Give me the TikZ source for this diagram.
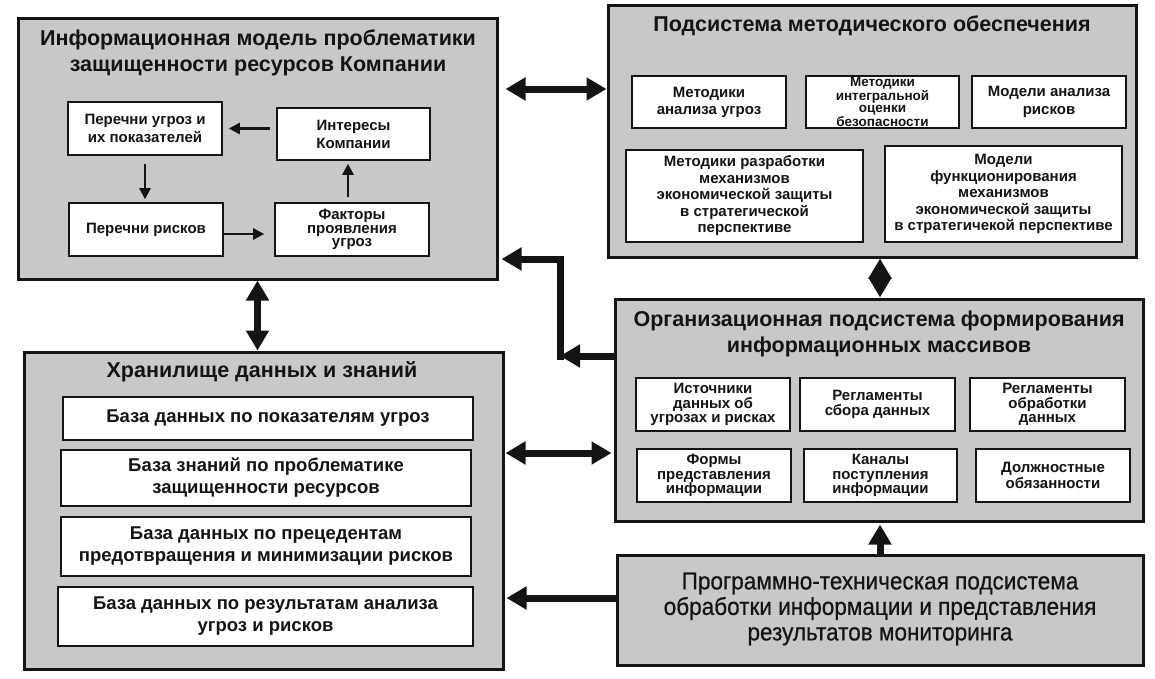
\documentclass[tikz,border=0pt]{standalone}
\usepackage{fontspec}
\setmainfont{Liberation Sans}
\newfontfamily\progfont[FakeStretch=0.92,FakeBold=0.6]{Liberation Sans}
\usetikzlibrary{arrows.meta}
\definecolor{boxgray}{RGB}{200,200,200}
\definecolor{ink}{RGB}{20,20,20}
\begin{document}
\begin{tikzpicture}[x=1pt,y=-1pt,
  outer/.style={draw=ink, line width=3pt, fill=boxgray, inner sep=0pt},
  ttl/.style={align=center, text=ink, font=\bfseries\fontsize{21.5}{26}\selectfont},
  inbox/.style={draw=ink, line width=1.6pt, fill=white, inner sep=0pt, align=center, text=ink},
  fa/.style={font=\bfseries\fontsize{15}{18}\selectfont},
  fb/.style={font=\bfseries\fontsize{15}{16.5}\selectfont},
  fc/.style={font=\bfseries\fontsize{15}{14.8}\selectfont},
  fd/.style={font=\bfseries\fontsize{18.5}{22}\selectfont},
  sarrow/.style={draw=ink, line width=2.6pt, -{Triangle[width=11pt,length=11pt]}},
  barrow/.style={draw=ink, line width=7pt, -{Triangle[width=22pt,length=20pt]}},
  bdarrow/.style={draw=ink, line width=7pt, {Triangle[width=22pt,length=20pt]}-{Triangle[width=22pt,length=20pt]}}
]
\useasboundingbox (0,0) rectangle (1155,678);

% outer boxes
\node[outer, minimum width=479pt, minimum height=261pt] (A) at (257.5,148.5) {};
\node[outer, minimum width=528pt, minimum height=252pt] (B) at (872,131) {};
\node[outer, minimum width=528pt, minimum height=222pt] (C) at (879,410) {};
\node[outer, minimum width=479pt, minimum height=317pt] (D) at (263.5,510.5) {};
\node[outer, minimum width=526pt, minimum height=110pt] (E) at (880,610) {};

% titles
\node[ttl] (At) at (258,52.5) {Информационная модель проблематики\\защищенности ресурсов Компании};
\node[ttl] (Bt) at (872,26) {Подсистема методического обеспечения};
\node[ttl] (Ct) at (879,333.5) {Организационная подсистема формирования\\информационных массивов};
\node[ttl] (Dt) at (262,372) {Хранилище данных и знаний};
\node[align=center, text=ink, font=\progfont\fontsize{24.5}{25.5}\selectfont] (Et) at (880,609) {Программно-техническая подсистема\\обработки информации и представления\\результатов мониторинга};

% inner boxes of A
\node[inbox, fa, minimum width=154pt, minimum height=53pt] (a1) at (145,128.5) {Перечни угроз и\\их показателей};
\node[inbox, fa, minimum width=153pt, minimum height=52pt] (a2) at (353.5,134) {Интересы\\Компании};
\node[inbox, fa, minimum width=154pt, minimum height=53pt] (a3) at (146,229.5) {Перечни рисков};
\node[inbox, font=\bfseries\fontsize{15}{13.2}\selectfont, minimum width=154pt, minimum height=53pt] (a4) at (352,229.5) {Факторы\\проявления\\угроз};

% inner boxes of B
\node[inbox, font=\bfseries\fontsize{15}{17}\selectfont, minimum width=154pt, minimum height=52pt] (b1) at (709,102) {Методики\\анализа угроз};
\node[inbox, font=\bfseries\fontsize{13.5}{12.4}\selectfont, minimum width=153pt, minimum height=52pt] (b2) at (882.5,102) {Методики\\интегральной\\оценки\\безопасности};
\node[inbox, font=\bfseries\fontsize{15}{18}\selectfont, minimum width=154pt, minimum height=52pt] (b3) at (1049,102) {Модели анализа\\рисков};
\node[inbox, fb, minimum width=237pt, minimum height=92pt] (b4) at (744.5,196) {Методики разработки\\механизмов\\экономической защиты\\в стратегической\\перспективе};
\node[inbox, fb, minimum width=237pt, minimum height=96pt] (b5) at (1003.5,194) {Модели\\функционирования\\механизмов\\экономической защиты\\в стратегичекой перспективе};

% inner boxes of C
\node[inbox, fc, minimum width=154pt, minimum height=53pt] (c1) at (713,404.5) {Источники\\данных об\\угрозах и рисках};
\node[inbox, fc, minimum width=155pt, minimum height=53pt] (c2) at (877.5,404.5) {Регламенты\\сбора данных};
\node[inbox, fc, minimum width=155pt, minimum height=53pt] (c3) at (1047.5,404.5) {Регламенты\\обработки\\данных};
\node[inbox, fc, minimum width=154pt, minimum height=53pt] (c4) at (714,475.5) {Формы\\представления\\информации};
\node[inbox, fc, minimum width=153pt, minimum height=53pt] (c5) at (880.5,475.5) {Каналы\\поступления\\информации};
\node[inbox, font=\bfseries\fontsize{15}{16.5}\selectfont, minimum width=154pt, minimum height=53pt] (c6) at (1053,475.5) {Должностные\\обязанности};

% inner boxes of D
\node[inbox, fd, minimum width=410pt, minimum height=43pt] (d1) at (268,418.5) {База данных по показателям угроз};
\node[inbox, fd, minimum width=410pt, minimum height=56pt] (d2) at (266,478) {База знаний по проблематике\\защищенности ресурсов};
\node[inbox, fd, minimum width=410pt, minimum height=59pt] (d3) at (266,546.5) {База данных по прецедентам\\предотвращения и минимизации рисков};
\node[inbox, fd, minimum width=415pt, minimum height=59pt] (d4) at (265.5,616.5) {База данных по результатам анализа\\угроз и рисков};

% small arrows inside A
\draw[sarrow, shorten <=6pt, shorten >=6pt] (a2.west |- a1.east) -- (a1.east);
\draw[sarrow, shorten <=8pt, shorten >=3pt] (a1.south) -- (a1.south |- a3.north);
\draw[sarrow, shorten >=10pt] ([yshift=-4.5pt]a3.east) -- ([yshift=-4.5pt]a3.east -| a4.west);
\draw[sarrow, shorten <=5pt, shorten >=3pt] ([xshift=-4pt]a4.north) -- ([xshift=-4pt]a4.north |- a2.south);

% big arrows
\draw[bdarrow, shorten <=7pt] ([yshift=59.5pt]A.east) -- ([yshift=59.5pt]A.east -| B.west);
\coordinate (k) at (560,356);
\coordinate (k2) at (560,359.5);
\draw[barrow] ([yshift=54pt]C.west) -- (k);
\draw[barrow, shorten >=3pt] (k2) |- ([yshift=-110.5pt]A.east);
\draw[bdarrow] (A.south) -- (A.south |- D.north);
\draw[bdarrow] ([xshift=8pt]B.south) -- ([xshift=8pt]B.south |- C.north);
\draw[bdarrow, shorten <=1pt, shorten >=2pt] ([yshift=57.5pt]D.east) -- ([yshift=57.5pt]D.east -| C.west);
\draw[barrow, shorten >=2pt] ([yshift=12pt]E.west) -- ([yshift=12pt]E.west -| D.east);
\draw[barrow, shorten >=2pt] (E.north) -- (E.north |- C.south);
\end{tikzpicture}
\end{document}
